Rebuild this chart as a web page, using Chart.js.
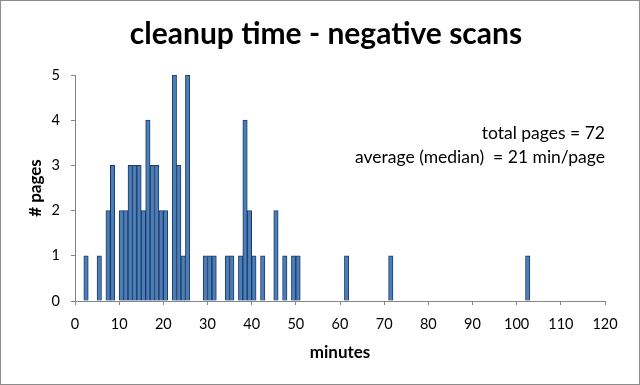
<!DOCTYPE html>
<html>
<head>
<meta charset="utf-8">
<script src="https://cdn.jsdelivr.net/npm/chart.js@4.4.1/dist/chart.umd.min.js"></script>
<style>
  html, body { margin: 0; padding: 0; background: #ffffff; }
  #wrap { width: 640px; height: 385px; position: relative; }
</style>
</head>
<body>
<div id="wrap"><canvas id="c" width="640" height="385"></canvas></div>
<script>
// ---- data ----
const chartTitle = 'cleanup time - negative scans';
const xAxisTitle = 'minutes';
const yAxisTitle = '# pages';
const minutes    = [2, 5, 7, 8, 10, 11, 12, 13, 14, 15, 16, 17, 18, 19, 20, 22, 23, 24, 25, 29, 30, 31, 34, 35, 37, 38, 39, 40, 42, 45, 47, 49, 50, 61, 71, 102];
const pageCounts = [1, 1, 2, 3, 2, 2, 3, 3, 3, 2, 4, 3, 3, 2, 2, 5, 3, 1, 5, 1, 1, 1, 1, 1, 1, 4, 2, 1, 1, 2, 1, 1, 1, 1, 1, 1];
const xRange = [0, 120];
const xStep = 10;
const yRange = [0, 5];
const yStep = 1;
const noteLines = ['total pages = 72', 'average (median)  = 21 min/page'];

// each bin [m, m+1) is drawn at its centre
const binData = minutes.map((m, i) => ({ x: m + 0.5, y: pageCounts[i] }));

const FONT = "Lato, 'Open Sans', 'DejaVu Sans', sans-serif";
const axisColor = '#868686';

const framePlugin = {
  id: 'frame',
  beforeDraw(chart) {
    const ctx = chart.ctx;
    ctx.save();
    ctx.fillStyle = '#ffffff';
    ctx.fillRect(0, 0, chart.width, chart.height);
    ctx.restore();
  },
  afterDraw(chart) {
    const ctx = chart.ctx;
    ctx.save();
    ctx.strokeStyle = '#8c8c8c';
    ctx.lineWidth = 1;
    ctx.strokeRect(0.5, 0.5, chart.width - 1, chart.height - 1);
    // chart title
    ctx.fillStyle = '#000000';
    ctx.font = 'bold 30px ' + FONT;
    ctx.textAlign = 'center';
    ctx.textBaseline = 'alphabetic';
    ctx.fillText(chartTitle, 326, 43.5);
    // note text box
    ctx.font = '17.5px ' + FONT;
    ctx.textAlign = 'right';
    ctx.textBaseline = 'middle';
    const xr = chart.chartArea.right;
    ctx.fillText(noteLines[0], xr, 133);
    ctx.fillText(noteLines[1], xr, 157);
    ctx.restore();
  }
};

new Chart(document.getElementById('c'), {
  type: 'bar',
  data: {
    datasets: [{
      data: binData,
      backgroundColor: '#4a7ebb',
      borderColor: '#1f3a60',
      borderWidth: 1,
      barPercentage: 1.0,
      categoryPercentage: 1.0
    }]
  },
  options: {
    responsive: false,
    animation: false,
    devicePixelRatio: 1,
    layout: { padding: { left: 0, right: 35, top: 75, bottom: 0 } },
    plugins: {
      legend: { display: false },
      tooltip: { enabled: false },
      title: { display: false }
    },
    scales: {
      x: {
        type: 'linear',
        min: xRange[0],
        max: xRange[1],
        offset: false,
        grid: { display: true, offset: false, drawOnChartArea: false, drawTicks: true, tickLength: 4, color: axisColor },
        border: { display: true, color: axisColor },
        ticks: { stepSize: xStep, color: '#000000', padding: 11, maxRotation: 0, font: { family: FONT, size: 14.5 } },
        title: { display: true, text: xAxisTitle, color: '#000000', font: { family: FONT, size: 17, weight: 'bold', lineHeight: 1.2 }, padding: { top: 0, bottom: 22 } },
        afterFit(scale) { scale.height = 84; }
      },
      y: {
        min: yRange[0],
        max: yRange[1],
        grid: { display: true, drawOnChartArea: false, drawTicks: true, tickLength: 4, color: axisColor },
        border: { display: true, color: axisColor },
        ticks: { stepSize: yStep, color: '#000000', padding: 11, font: { family: FONT, size: 14.5 } },
        title: { display: true, text: yAxisTitle, color: '#000000', font: { family: FONT, size: 17, weight: 'bold', lineHeight: 1.2 }, padding: { top: 25, bottom: 0 } },
        afterFit(scale) { scale.width = 75; }
      }
    }
  },
  plugins: [framePlugin]
});
</script>
</body>
</html>
